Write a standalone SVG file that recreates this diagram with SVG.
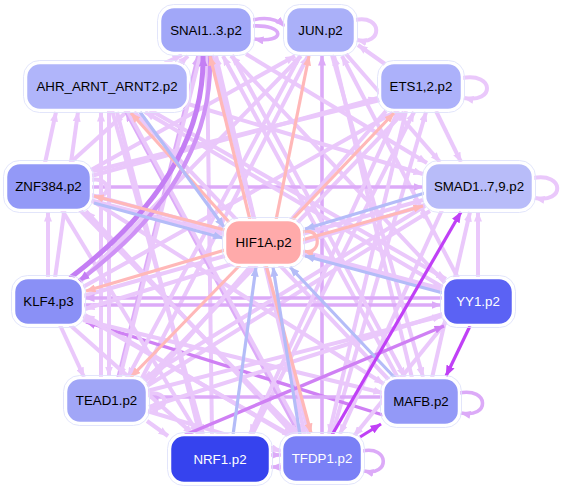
<svg xmlns="http://www.w3.org/2000/svg" width="563" height="489" viewBox="0 0 563 489">
<defs>
<style>
.e{fill:none;stroke-linecap:butt}
.L{stroke:#eac8fb;stroke-width:4;marker-end:url(#aL)}
.M{stroke:#dcaaf8;stroke-width:3.6;marker-end:url(#aM)}
.D{stroke:#cf80f4;stroke-width:3.4;marker-end:url(#aD)}
.P{stroke:#c040f6;stroke-width:3.2;marker-end:url(#aP)}
.R{stroke:#ffb8b8;stroke-width:3.2;marker-end:url(#aR)}
.B{stroke:#b4bcf8;stroke-width:3.2;marker-end:url(#aB)}
.box{stroke:#ffffff;stroke-width:2.5}
.halo{fill:none;stroke:#dfe2fb;stroke-width:0.9}
.t{font-family:"Liberation Sans",Arial,Helvetica,sans-serif;font-size:13.3px;text-anchor:middle;fill:#000}
.w{fill:#ffffff}
</style>
<marker id="aL" viewBox="0 0 10 8" refX="9.5" refY="4" markerWidth="10" markerHeight="8" markerUnits="userSpaceOnUse" orient="auto"><path d="M0,0L10,4L0,8z" fill="#eac8fb"/></marker>
<marker id="aM" viewBox="0 0 10 8" refX="9.5" refY="4" markerWidth="10" markerHeight="8" markerUnits="userSpaceOnUse" orient="auto"><path d="M0,0L10,4L0,8z" fill="#dcaaf8"/></marker>
<marker id="aD" viewBox="0 0 10 8" refX="9.5" refY="4" markerWidth="10" markerHeight="8" markerUnits="userSpaceOnUse" orient="auto"><path d="M0,0L10,4L0,8z" fill="#cf80f4"/></marker>
<marker id="aK" viewBox="0 0 10 8" refX="9.5" refY="4" markerWidth="11" markerHeight="9" markerUnits="userSpaceOnUse" orient="auto"><path d="M0,0L10,4L0,8z" fill="#c47ef4"/></marker>
<marker id="aP" viewBox="0 0 10 8" refX="9.5" refY="4" markerWidth="11" markerHeight="9" markerUnits="userSpaceOnUse" orient="auto"><path d="M0,0L10,4L0,8z" fill="#c040f6"/></marker>
<marker id="aR" viewBox="0 0 10 8" refX="9.5" refY="4" markerWidth="10" markerHeight="8" markerUnits="userSpaceOnUse" orient="auto"><path d="M0,0L10,4L0,8z" fill="#ffb8b8"/></marker>
<marker id="aB" viewBox="0 0 10 8" refX="9.5" refY="4" markerWidth="10" markerHeight="8" markerUnits="userSpaceOnUse" orient="auto"><path d="M0,0L10,4L0,8z" fill="#b4bcf8"/></marker>
</defs>
<rect width="563" height="489" fill="#ffffff"/>
<g id="edges">
<!-- into SNAI -->
<path class="e L" d="M165,63L182,55"/>
<path class="e L" d="M70,163L188,56"/>
<path class="e M" d="M118,378L198,56"/>
<path class="e L" d="M212,435L207,56"/>
<path class="e L" d="M305,435L216,56"/>
<path class="e L" d="M398,378L223,56"/>
<path class="e L" d="M445,283L231,56"/>
<!-- into JUN -->
<path class="e M" d="M322,435L322,56"/>
<path class="e L" d="M91,170L295,56"/>
<path class="e L" d="M80,282L301,56"/>
<path class="e L" d="M142,378L308,56"/>
<path class="e L" d="M412,378L334,56"/>
<path class="e L" d="M458,278L342,56"/>
<path class="e L" d="M385,64L358,45"/>
<!-- into ETS -->
<path class="e L" d="M91,176L378,98"/>
<path class="e L" d="M83,287L393,113"/>
<path class="e L" d="M145,381L404,112"/>
<path class="e L" d="M252,435L414,112"/>
<path class="e L" d="M332,435L426,112"/>
<!-- into SMAD -->
<path class="e M" d="M91,187L423,187"/>
<path class="e L" d="M188,104L423,174"/>
<path class="e L" d="M246,54L427,163"/>
<path class="e L" d="M83,296L423,200"/>
<path class="e L" d="M147,386L430,211"/>
<path class="e L" d="M478,278L478,212"/>
<path class="e L" d="M432,378L470,212"/>
<path class="e L" d="M346,54L440,162"/>
<path class="e L" d="M436,111L461,162"/>
<!-- into AHR -->
<path class="e L" d="M45,163L56,112"/>
<path class="e L" d="M55,278L78,112"/>
<path class="e L" d="M101,378L101,112"/>
<path class="e L" d="M200,435L117,112"/>
<path class="e M" d="M300,436L126,112"/>
<path class="e L" d="M390,381L134,112"/>
<path class="e L" d="M446,289L145,112"/>
<!-- into ZNF -->
<path class="e L" d="M443,290L93,201"/>
<path class="e L" d="M294,435L86,211"/>
<path class="e L" d="M48,278L48,212"/>
<path class="e L" d="M380,100L93,171"/>
<!-- into KLF -->
<path class="e M" d="M443,298L85,298"/>
<path class="e M" d="M83,305L441,305"/>
<path class="e L" d="M425,205L85,309"/>
<path class="e L" d="M288,435L85,315"/>
<path class="e D" d="M383,415L86,322"/>
<!-- into TEAD -->
<path class="e L" d="M109,110L109,376"/>
<path class="e L" d="M60,325L84,377"/>
<path class="e L" d="M200,56L120,377"/>
<path class="e L" d="M425,206L143,379"/>
<path class="e L" d="M300,56L128,377"/>
<path class="e M" d="M383,397L149,397"/>
<path class="e L" d="M443,314L149,407"/>
<path class="e L" d="M386,111L148,384"/>
<path class="e L" d="M147,394C170,389 170,413 149,408"/>
<!-- into NRF1 -->
<path class="e L" d="M147,421L168,436"/>
<path class="e L" d="M70,325L193,434"/>
<path class="e L" d="M112,110L203,434"/>
<path class="e L" d="M62,210L198,434"/>
<path class="e L" d="M398,111L250,434"/>
<!-- into TFDP1 -->
<path class="e L" d="M127,110L302,434"/>
<path class="e L" d="M212,55L309,434"/>
<path class="e L" d="M80,210L298,434"/>
<path class="e L" d="M83,316L292,436"/>
<path class="e L" d="M406,111L329,434"/>
<path class="e L" d="M442,210L340,434"/>
<path class="e L" d="M446,322L354,436"/>
<path class="e L" d="M147,411L281,451"/>
<!-- into MAFB -->
<path class="e L" d="M332,55L423,377"/>
<path class="e L" d="M232,55L405,377"/>
<path class="e L" d="M91,200L384,384"/>
<path class="e L" d="M83,320L383,393"/>
<!-- into YY1 -->
<path class="e L" d="M91,195L442,289"/>
<path class="e L" d="M150,110L446,279"/>
<path class="e L" d="M147,391L442,316"/>
<path class="e D" d="M185,435L444,326"/>
<!-- self loops and short -->
<path class="e M" d="M253,20Q272,15 285,26"/>
<path class="e M" d="M252,26C286,24 286,44 254,39"/>
<path class="e L" d="M355,20C383,14 383,46 357,40"/>
<path class="e L" d="M462,78C495,72 495,104 464,98"/>
<path class="e L" d="M533,178C565,172 565,204 535,198"/>
<path class="e M" d="M459,393C490,387 490,419 461,413"/>
<path class="e M" d="M362,451C390,445 390,477 364,471"/>
<path class="e L" d="M91,180C112,176 112,200 93,196"/>
<path class="e M" d="M270,455L281,455"/>
<path class="e M" d="M282,467L271,467"/>
<!-- KLF / SNAI curves -->
<path class="e" d="M70,278Q205,175 203,56" style="stroke:#c47ef4;stroke-width:5;marker-end:url(#aK)"/>
<path class="e" d="M210,56Q214,180 79,281" style="stroke:#cf92f6;stroke-width:4.2;marker-end:url(#aK)"/>
<!-- pink from HIF -->
<path class="e R" d="M250,220L210,56"/>
<path class="e R" d="M276,220L309,56"/>
<path class="e R" d="M292,220L394,113"/>
<path class="e R" d="M302,240L423,206"/>
<path class="e R" d="M229,222L131,113"/>
<path class="e R" d="M225,230L94,196"/>
<path class="e R" d="M225,250L86,291"/>
<path class="e R" d="M240,265L131,377"/>
<path class="e R" d="M266,265L311,433"/>
<path class="e R" d="M302,232C322,226 322,256 304,251"/>
<!-- blue into HIF -->
<path class="e B" d="M140,112L224,227"/>
<path class="e B" d="M94,203L223,238"/>
<path class="e B" d="M425,193L305,229"/>
<path class="e B" d="M443,293L305,256"/>
<path class="e B" d="M395,378L290,267"/>
<path class="e B" d="M300,435L273,267"/>
<path class="e B" d="M233,435L256,267"/>
<!-- strong purple -->
<path class="e P" d="M470,326L446,376"/>
<path class="e P" d="M360,437L381,424"/>
<path class="e P" d="M332,435L461,212"/>
</g>
<g id="nodes">
<g id="n-SNAI"><rect class="halo" x="157.5" y="4.5" width="97" height="51" rx="16"/><rect class="box" x="160" y="7" width="92" height="46" rx="14" fill="#a1a7f8"/><text class="t" x="206" y="34.5">SNAI1..3.p2</text></g>
<g id="n-JUN"><rect class="halo" x="283.5" y="4.5" width="74" height="51" rx="16"/><rect class="box" x="286" y="7" width="69" height="46" rx="14" fill="#aab0f9"/><text class="t" x="320.5" y="34.5">JUN.p2</text></g>
<g id="n-AHR"><rect class="halo" x="23.5" y="60.5" width="167" height="52" rx="16"/><rect class="box" x="26" y="63" width="162" height="47" rx="14" fill="#b0b5fa"/><text class="t" x="107" y="91">AHR_ARNT_ARNT2.p2</text></g>
<g id="n-ETS"><rect class="halo" x="377.5" y="60.5" width="87" height="52" rx="16"/><rect class="box" x="380" y="63" width="82" height="47" rx="14" fill="#acb1fa"/><text class="t" x="421" y="91">ETS1,2.p2</text></g>
<g id="n-ZNF"><rect class="halo" x="3.5" y="160.5" width="90" height="52" rx="16"/><rect class="box" x="6" y="163" width="85" height="47" rx="14" fill="#9399f7"/><text class="t" x="48.5" y="191">ZNF384.p2</text></g>
<g id="n-SMAD"><rect class="halo" x="422.5" y="160.5" width="113" height="52" rx="16"/><rect class="box" x="425" y="163" width="108" height="47" rx="14" fill="#b8bcf9"/><text class="t" x="479" y="191">SMAD1..7,9.p2</text></g>
<g id="n-HIF"><rect class="halo" x="222.5" y="217.5" width="82" height="50" rx="16"/><rect class="box" x="225" y="220" width="77" height="45" rx="14" fill="#ffaaaa"/><text class="t" x="263.5" y="247">HIF1A.p2</text></g>
<g id="n-KLF"><rect class="halo" x="11.5" y="275.5" width="74" height="52" rx="16"/><rect class="box" x="14" y="278" width="69" height="47" rx="14" fill="#8a90f6"/><text class="t" x="48.5" y="306">KLF4.p3</text></g>
<g id="n-YY1"><rect class="halo" x="440.5" y="275.5" width="75" height="52" rx="16"/><rect class="box" x="443" y="278" width="70" height="47" rx="14" fill="#5b62f4"/><text class="t w" x="478" y="306">YY1.p2</text></g>
<g id="n-TEAD"><rect class="halo" x="63.5" y="375.5" width="86" height="50" rx="16"/><rect class="box" x="66" y="378" width="81" height="45" rx="14" fill="#a1a6f7"/><text class="t" x="106.5" y="405">TEAD1.p2</text></g>
<g id="n-MAFB"><rect class="halo" x="380.5" y="375.5" width="81" height="52" rx="16"/><rect class="box" x="383" y="378" width="76" height="47" rx="14" fill="#9399f7"/><text class="t" x="421" y="406">MAFB.p2</text></g>
<g id="n-NRF1"><rect class="halo" x="167.5" y="432.5" width="105" height="53" rx="16"/><rect class="box" x="170" y="435" width="100" height="48" rx="14" fill="#3643ee"/><text class="t w" x="220" y="463.5">NRF1.p2</text></g>
<g id="n-TFDP1"><rect class="halo" x="279.5" y="432.5" width="85" height="52" rx="16"/><rect class="box" x="282" y="435" width="80" height="47" rx="14" fill="#7a80f6"/><text class="t w" x="322" y="463">TFDP1.p2</text></g>
</g>
</svg>
